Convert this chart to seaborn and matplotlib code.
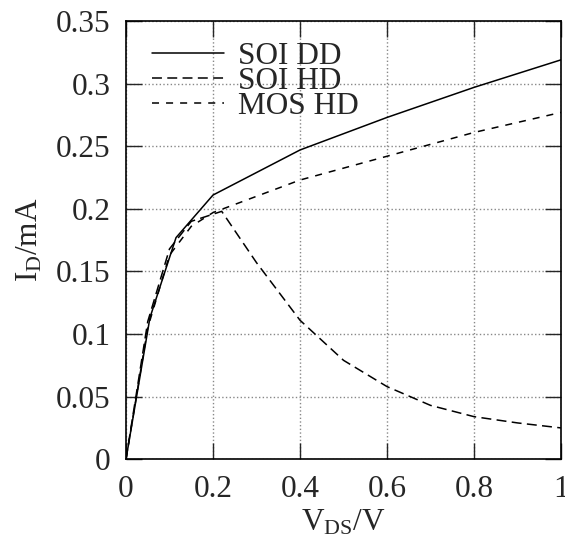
import matplotlib
matplotlib.use('Agg')
import matplotlib.pyplot as plt
import seaborn as sns

# data
soi_dd_x = [0, 0.055, 0.115, 0.2, 0.4, 0.6, 0.8, 1.0]
soi_dd_y = [0, 0.113, 0.177, 0.211, 0.247, 0.273, 0.297, 0.319]

soi_hd_x = [0, 0.05, 0.1, 0.15, 0.22, 0.3, 0.4, 0.5, 0.6, 0.7, 0.8, 0.9, 1.0]
soi_hd_y = [0, 0.11, 0.168, 0.19, 0.198, 0.157, 0.111, 0.079, 0.058, 0.043, 0.034, 0.029, 0.025]

mos_hd_x = [0, 0.05, 0.1, 0.15, 0.2, 0.4, 0.6, 0.8, 1.0]
mos_hd_y = [0, 0.105, 0.163, 0.186, 0.197, 0.223, 0.242, 0.261, 0.277]

x_ticks = [0, 0.2, 0.4, 0.6, 0.8, 1]
x_labels = ['0', '0.2', '0.4', '0.6', '0.8', '1']
y_ticks = [0, 0.05, 0.1, 0.15, 0.2, 0.25, 0.3, 0.35]
y_labels = ['0', '0.05', '0.1', '0.15', '0.2', '0.25', '0.3', '0.35']

sns.set_style('ticks')
plt.rcParams['font.family'] = ['Liberation Serif', 'DejaVu Serif']
plt.rcParams['mathtext.fontset'] = 'custom'
plt.rcParams['mathtext.rm'] = 'Liberation Serif'
plt.rcParams['mathtext.it'] = 'Liberation Serif:italic'

FS = 22.5
DASH_SOI = [6.5, 3.5]
DASH_MOS = [4.6, 4.6]

fig = plt.figure(figsize=(5.65, 5.39), dpi=100)
ax = fig.add_axes([0.223, 0.148, 0.770, 0.813])

sns.lineplot(x=soi_dd_x, y=soi_dd_y, ax=ax, color='black', lw=1.1,
             label='SOI DD', sort=False)
sns.lineplot(x=soi_hd_x, y=soi_hd_y, ax=ax, color='black', lw=1.1,
             label='SOI HD', sort=False)
sns.lineplot(x=mos_hd_x, y=mos_hd_y, ax=ax, color='black', lw=1.1,
             label='MOS HD', sort=False)
ax.lines[1].set_dashes(DASH_SOI)
ax.lines[2].set_dashes(DASH_MOS)

ax.set_xlim(0, 1)
ax.set_ylim(0, 0.35)
ax.set_xticks(x_ticks)
ax.set_xticklabels(x_labels)
ax.set_yticks(y_ticks)
ax.set_yticklabels(y_labels)
ax.tick_params(direction='in', length=11.5, width=1, labelsize=FS,
               top=True, right=True, pad=11)
ax.grid(True, color='#888888', linestyle=':', linewidth=1)
for s in ax.spines.values():
    s.set_linewidth(1.2)
    s.set_color('black')

ax.set_xlabel(r'V$_{\rm DS}$/V', fontsize=FS, labelpad=3)
ax.set_ylabel(r'I$_{\rm D}$/mA', fontsize=FS, labelpad=8)

leg = ax.legend(loc='upper left', bbox_to_anchor=(0.06, 0.953), frameon=False,
                fontsize=FS, handlelength=2.3, handletextpad=0.45,
                labelspacing=-0.12, borderaxespad=0, borderpad=0)
for h in leg.get_lines():
    h.set_color('black')
    h.set_linewidth(1.1)
leg.get_lines()[1].set_dashes(DASH_SOI)
leg.get_lines()[2].set_dashes(DASH_MOS)

fig.savefig('out.png', dpi=100)
